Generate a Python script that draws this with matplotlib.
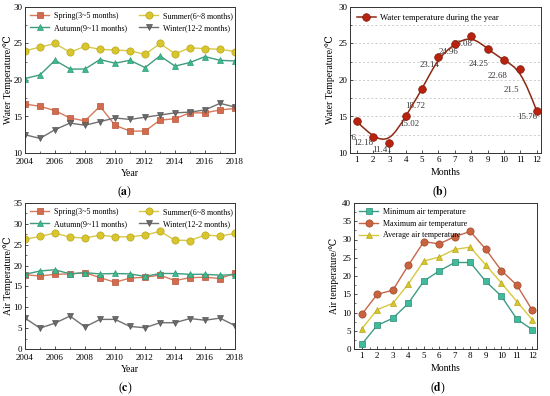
import numpy as np
import matplotlib
matplotlib.use("Agg")
import matplotlib.pyplot as plt
from matplotlib.path import Path
from matplotlib.patches import PathPatch
from matplotlib.ticker import MultipleLocator

plt.rcParams['font.family'] = ['Liberation Serif', 'DejaVu Serif']
plt.rcParams['mathtext.fontset'] = 'stix'

years = list(range(2004, 2019))
months = list(range(1, 13))

# (a) water temperature by season
water_spring = [16.7, 16.4, 15.8, 14.8, 14.4, 16.4, 13.8, 13.0, 13.0, 14.5, 14.7, 15.5, 15.5, 15.9, 16.1]
water_summer = [24.0, 24.5, 25.0, 23.8, 24.6, 24.2, 24.1, 24.0, 23.5, 25.0, 23.6, 24.4, 24.3, 24.2, 23.9]
water_autumn = [20.2, 20.7, 22.7, 21.5, 21.5, 22.8, 22.3, 22.7, 21.7, 23.3, 21.9, 22.4, 23.2, 22.7, 22.6]
water_winter = [12.5, 12.0, 13.2, 14.1, 13.8, 14.3, 14.8, 14.6, 14.9, 15.2, 15.5, 15.6, 15.9, 16.8, 16.3]

# (b) monthly water temperature
water_month = [14.36, 12.18, 11.41, 15.02, 18.72, 23.14, 24.96, 26.08, 24.25, 22.68, 21.5, 15.76]
water_month_labels = ["14.36", "12.18", "11.41", "15.02", "18.72", "23.14",
                      "24.96", "26.08", "24.25", "22.68", "21.5", "15.76"]

# (c) air temperature by season
air_spring = [17.8, 17.5, 17.9, 18.0, 18.3, 17.1, 16.0, 17.0, 17.2, 17.7, 16.4, 17.1, 17.2, 16.9, 18.2]
air_summer = [26.3, 27.0, 27.8, 26.8, 26.6, 27.3, 26.9, 26.9, 27.3, 28.2, 26.1, 26.0, 27.3, 27.1, 27.7]
air_autumn = [17.9, 18.7, 19.0, 18.0, 18.3, 18.0, 18.1, 18.0, 17.4, 18.1, 18.1, 17.9, 17.9, 17.7, 17.8]
air_winter = [7.4, 5.0, 6.2, 7.9, 5.3, 7.1, 7.1, 5.4, 5.1, 6.3, 6.3, 7.3, 6.9, 7.4, 5.6]

# (d) monthly air temperature
air_min = [1.3, 6.5, 8.4, 12.5, 18.6, 21.4, 23.7, 23.7, 18.5, 14.5, 8.2, 5.3]
air_max = [9.5, 15.0, 16.1, 22.9, 29.4, 28.8, 30.8, 32.2, 27.3, 21.5, 17.5, 10.6]
air_avg = [5.5, 10.8, 12.5, 17.8, 24.1, 25.2, 27.3, 27.9, 23.0, 18.1, 13.0, 8.0]

season_names = ["Spring(3~5 months)", "Summer(6~8 months)",
                "Autumn(9~11 months)", "Winter(12-2 months)"]

W, H = 550, 396
fig = plt.figure(figsize=(W / 100, H / 100), dpi=100)


def box(l, t, r, b):
    return fig.add_axes([l / W, 1 - b / H, (r - l) / W, (b - t) / H])


def style(ax):
    for s in ax.spines.values():
        s.set_linewidth(0.7)
        s.set_color('#333333')
    ax.tick_params(which='both', direction='in', labelsize=6.5, pad=2, color='#333333')
    ax.tick_params(which='major', length=2.5, width=0.6)
    ax.tick_params(which='minor', length=1.3, width=0.5)


def seasons(ax, data, ylim, ystep, ylabel):
    styles = [
        ('s', '#D36B4E', '#B5553A', '#D9785C', 4.2),
        ('o', '#D8C62C', '#B8A61E', '#D8C84A', 5.2),
        ('^', '#3DBB8F', '#2E9A74', '#3E9C80', 5.0),
        ('v', '#6A6A6A', '#555555', '#707070', 5.0),
    ]
    handles = []
    for vals, name, (mk, fc, ec, lc, ms) in zip(data, season_names, styles):
        h, = ax.plot(years, vals, color=lc, lw=1.0, marker=mk, ms=ms,
                     mfc=fc, mec=ec, mew=0.5, label=name)
        handles.append(h)
    order = [handles[0], handles[2], handles[1], handles[3]]
    ax.legend(order, [h.get_label() for h in order], ncol=2, frameon=False,
              loc='upper left', fontsize=5.8, handlelength=2.3, columnspacing=1.6,
              borderaxespad=0.25, handletextpad=0.6, labelspacing=0.45)
    ax.set_xlim(2004, 2018)
    ax.set_ylim(*ylim)
    ax.xaxis.set_major_locator(MultipleLocator(2))
    ax.xaxis.set_minor_locator(MultipleLocator(1))
    ax.yaxis.set_major_locator(MultipleLocator(ystep))
    ax.yaxis.set_minor_locator(MultipleLocator(ystep / 2))
    ax.set_xlabel("Year", fontsize=7, labelpad=2)
    ax.set_ylabel(ylabel, fontsize=7, labelpad=0.5)
    style(ax)
    ax.tick_params(axis='x', which='both', pad=3.5)


# (a)
ax_a = box(25, 7, 235, 153)
seasons(ax_a, [water_spring, water_summer, water_autumn, water_winter],
        (10, 30), 5, "Water Temperature/℃")

# (b)
ax_b = box(350, 7, 541, 153)
pts = np.column_stack([months, water_month])
ctrl = np.vstack([pts[:1], pts[:1], pts, pts[-1:], pts[-1:]])
verts = []
codes = []
for i in range(1, len(ctrl) - 2):
    p0, p1, p2, p3 = ctrl[i - 1], ctrl[i], ctrl[i + 1], ctrl[i + 2]
    b0 = (p0 + 4 * p1 + p2) / 6
    b1 = (2 * p1 + p2) / 3
    b2 = (p1 + 2 * p2) / 3
    b3 = (p1 + 4 * p2 + p3) / 6
    if not verts:
        verts.append(b0)
        codes.append(Path.MOVETO)
    verts += [b1, b2, b3]
    codes += [Path.CURVE4] * 3
ax_b.add_patch(PathPatch(Path(verts, codes), fc='none', ec='#8E2A12', lw=1.1, zorder=2))
ax_b.plot(months, water_month, ls='none', marker='o', ms=5.5,
          mfc='#B8220F', mec='#7E1B0B', mew=0.5, zorder=3)
ax_b.plot([], [], color='#8E2A12', lw=1.1, marker='o', ms=5.5, mfc='#B8220F',
          mec='#7E1B0B', mew=0.5, label="Water temperature during the year")
ax_b.legend(frameon=False, loc='upper left', fontsize=6.2, handlelength=2.2,
            borderaxespad=0.4, handletextpad=0.5)
offsets = [(-7.2, -12.2), (-7.2, -4.3), (-5, -5), (2.2, -5.8), (-5, -12.2), (-6.5, -5.8),
           (-4.3, -5.8), (-6.5, -5.8), (-6.5, -10.8), (-5, -11.5), (-6.5, -15), (-7.2, -4.3)]
for m, v, lab, (dx, dy) in zip(months, water_month, water_month_labels, offsets):
    ax_b.annotate(lab, (m, v), xytext=(dx, dy), textcoords='offset points',
                  fontsize=6.3, ha='center', va='center', color='#333333',
                  annotation_clip=False, clip_on=True, zorder=1.5)
ax_b.set_xlim(0.6, 12.26)
ax_b.set_ylim(10, 30)
ax_b.set_xticks(months)
ax_b.yaxis.set_major_locator(MultipleLocator(5))
ax_b.yaxis.set_minor_locator(MultipleLocator(2.5))
for yv in np.arange(12.5, 30, 2.5):
    ax_b.axhline(yv, color='#BBBBBB', lw=0.5, ls=(0, (3, 3)), zorder=0)
ax_b.set_xlabel("Months", fontsize=7, labelpad=3)
ax_b.set_ylabel("Water Temperature/℃", fontsize=7, labelpad=2)
style(ax_b)

# (c)
ax_c = box(25, 203, 235, 349)
seasons(ax_c, [air_spring, air_summer, air_autumn, air_winter],
        (0, 35), 5, "Air Temperature/℃")

# (d)
ax_d = box(354, 203, 537, 349)
ax_d.plot(months, air_min, color='#3E9C86', lw=1.0, marker='s', ms=4.2,
          mfc='#3DBB9A', mec='#2E8A72', mew=0.5, label="Minimum air temperature")
ax_d.plot(months, air_max, color='#C8664A', lw=1.0, marker='o', ms=5.2,
          mfc='#C9623E', mec='#9C4A2C', mew=0.5, label="Maximum air temperature")
ax_d.plot(months, air_avg, color='#D8C840', lw=1.0, marker='^', ms=5.0,
          mfc='#D8C62C', mec='#B8A61E', mew=0.5, label="Average air temperature")
ax_d.legend(frameon=False, loc='upper left', fontsize=5.8, handlelength=2.3,
            borderaxespad=0.25, handletextpad=0.6, labelspacing=0.45)
ax_d.set_xlim(0.5, 12.3)
ax_d.set_ylim(0, 40)
ax_d.set_xticks(months)
ax_d.xaxis.set_minor_locator(MultipleLocator(0.5))
ax_d.yaxis.set_major_locator(MultipleLocator(5))
ax_d.yaxis.set_minor_locator(MultipleLocator(2.5))
ax_d.set_xlabel("Months", fontsize=7, labelpad=3)
ax_d.set_ylabel("Air temperature/℃", fontsize=7, labelpad=2)
style(ax_d)

# panel letters
for x, y, letter in [(125, 192, 'a'), (440, 192, 'b'), (125, 388, 'c'), (438, 388, 'd')]:
    fig.text(x / W, 1 - y / H, r"($\mathbf{%s}$)" % letter, fontsize=8.5,
             ha='center', va='center')

fig.savefig("out.png", dpi=100)
